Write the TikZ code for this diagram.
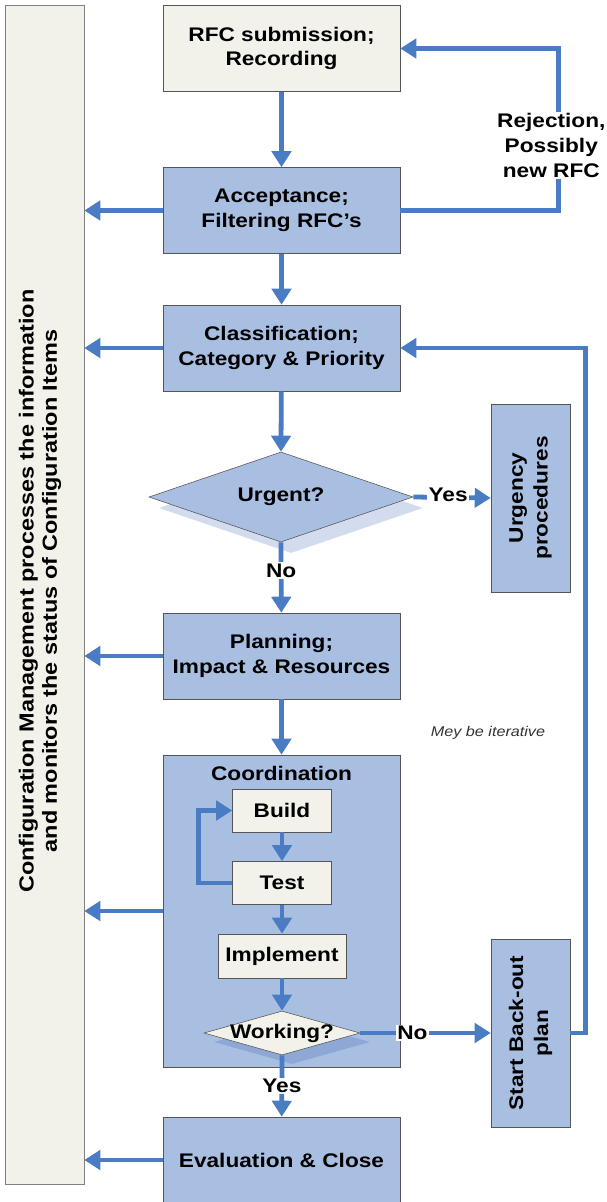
\documentclass[tikz,border=0pt]{standalone}
\usepackage{fontspec}
\setmainfont{Liberation Sans}[FakeStretch=1.15]
\usetikzlibrary{shapes.geometric,arrows.meta}

\definecolor{stageblue}{HTML}{A9BFE2}
\definecolor{paper}{HTML}{F2F2EA}
\definecolor{flowblue}{HTML}{4A7CC4}
\definecolor{rim}{HTML}{555555}
\definecolor{shadelight}{HTML}{D3DCEE}
\definecolor{shadedark}{HTML}{8FA7D5}

\begin{document}
\begin{tikzpicture}[
		x=0.025cm, y=-0.025cm,
		every node/.style={font=\fontsize{14}{17.7}\selectfont\bfseries, align=center},
		stage/.style={draw=rim, fill=stageblue, minimum width=5.925cm, minimum height=2.15cm, inner sep=0pt},
		paperbox/.style={draw=rim, fill=paper, inner sep=0pt},
		decision/.style={diamond, draw=rim, inner sep=0pt},
		flow/.style={draw=flowblue, line width=3.4pt, -{Triangle[length=0.4cm, width=0.48cm]}},
		flag/.style={fill=white, inner sep=1pt}
	]
	\useasboundingbox (0,0) rectangle (606,1202);

	% side bar
	\node[draw=gray, fill=paper, minimum width=1.975cm, minimum height=29.475cm] (cmbar) at (44.5,594.5) {};
	\node[rotate=90, font=\fontsize{14.5}{16.5}\selectfont\bfseries] (cmtext) at (40,591)
		{Configuration Management processes the information\\and monitors the status of Configuration Items};

	% main column
	\node[stage, fill=paper] (rfc) at (281.5,48.5) {RFC submission;\\Recording};
	\node[stage] (accept) at (281.5,210.5) {Acceptance;\\Filtering RFC’s};
	\node[stage] (classif) at (281.5,348) {Classification;\\Category \& Priority};
	\node[decision, fill=shadelight, draw=none, minimum width=6.6cm, minimum height=2.25cm] at (291,508) {};
	\node[decision, fill=stageblue, minimum width=6.6cm, minimum height=2.25cm] (urgent) at (281,497) {};
	\node at (urgent) {Urgent?};
	\node[stage, rotate=90, minimum width=4.7cm, minimum height=1.975cm] (urgency) at (530.5,498) {Urgency\\procedures};
	\node[stage] (plan) at (281.5,656) {Planning;\\Impact \& Resources};
	\node[stage, minimum height=7.8cm] (coord) at (281.5,911) {};
	\node at (281.5,773) {Coordination};
	\node[paperbox, minimum width=2.475cm, minimum height=1.075cm] (build) at (282,810.5) {Build};
	\node[paperbox, minimum width=2.475cm, minimum height=1.075cm] (test) at (282,883) {Test};
	\node[paperbox, minimum width=3.2cm, minimum height=1.1cm] (impl) at (282,956) {Implement};
	\node[decision, fill=shadedark, draw=none, minimum width=3.9cm, minimum height=1.1cm] at (292,1042) {};
	\node[decision, fill=paper, minimum width=3.9cm, minimum height=1.1cm] (working) at (282,1033) {};
	\node at (working) {Working?};
	\node[stage, rotate=90, minimum width=4.7cm, minimum height=1.975cm] (backout) at (530.5,1033) {Start Back-out\\plan};
	\node[stage] (eval) at (281.5,1160) {Evaluation \& Close};
	\node[font=\fontsize{10}{12}\selectfont\itshape, text=black!80] (note) at (488,733) {Mey be iterative};

	% connectors
	\draw[flow] (rfc) -- (accept);
	\draw[flow] (accept) -- (classif);
	\draw[flow] (classif) -- (urgent.north);
	\draw[flow] (urgent.east) -- node[flag, pos=0.45, yshift=2pt] {Yes} (urgency.north);
	\draw[flow] (urgent.south) -- node[flag, pos=0.4] {No} (plan);
	\draw[flow] (plan) -- (coord);
	\draw[flow] (build) -- (test);
	\draw[flow] (test.west) -- ++(-34,0) |- (build.west);
	\draw[flow] (test) -- (impl);
	\draw[flow] (impl) -- (working.north);
	\draw[flow] (working.east) -- node[flag, pos=0.4] {No} (backout.north);
	\draw[flow] (working.south) -- node[flag, pos=0.5] {Yes} (eval);
	\draw[flow] (accept.east) -- ++(158,0) |- node[flag, pos=0.2, xshift=-5] {Rejection,\\Possibly\\new RFC} (rfc.east);
	\draw[flow] (backout.south) -- ++(15,0) |- (classif.east);
	\foreach \s in {accept,classif,plan,coord,eval}
		\draw[flow] (\s.west) -- (\s.west -| cmbar.east);
\end{tikzpicture}
\end{document}
